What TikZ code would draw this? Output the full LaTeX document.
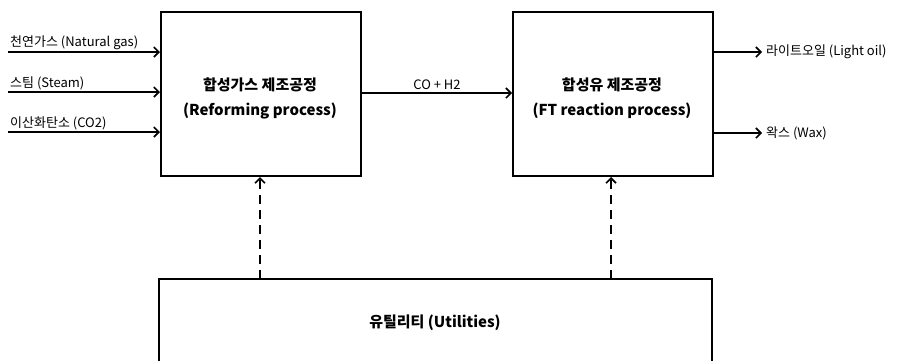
\documentclass[tikz,border=0pt]{standalone}
\usepackage{fontspec}
\setmainfont{Noto Sans CJK KR}
\usetikzlibrary{arrows.meta}
\begin{document}
\begin{tikzpicture}[x=1pt,y=-1pt,
  box/.style={draw,line width=2pt,minimum width=200pt,minimum height=164pt,anchor=north west,inner sep=0pt},
  flow/.style={line width=2pt,-{Straight Barb[length=5pt,width=10pt,line width=1.6pt]}},
  dflow/.style={flow,dash pattern=on 9pt off 6pt},
  lbl/.style={font=\fontsize{13}{15}\selectfont,inner sep=0pt},
  ttl/.style={font=\bfseries\fontsize{15}{25}\selectfont,align=center}]
\useasboundingbox (0,0) rectangle (899,360);
\node[box] (ref) at (160,11) {};
\node[box] (ft) at (512,11) {};
\node[ttl] (reft) at (260,98) {합성가스 제조공정\\(Reforming process)};
\node[ttl] (ftt) at (612,98) {합성유 제조공정\\(FT reaction process)};
\begin{scope}
\clip (0,0) rectangle (899,360);
\draw[line width=2pt] (159,372) -- (159,279) -- (712,279) -- (712,372);
\end{scope}
\coordinate (ut) at (435,279);
\node[font=\bfseries\fontsize{15}{18}\selectfont] (utl) at (435,323) {유틸리티 (Utilities)};
% inputs
\coordinate (i1) at (8,52);
\coordinate (i2) at (8,92);
\coordinate (i3) at (8,132);
\draw[flow] (i1) -- (i1 -| ref.west);
\draw[flow] (i2) -- (i2 -| ref.west);
\draw[flow] (i3) -- (i3 -| ref.west);
\node[lbl,anchor=south west] (l1) at (10,50) {천연가스 (Natural gas)};
\node[lbl,anchor=south west] (l2) at (10,90) {스팀 (Steam)};
\node[lbl,anchor=south west] (l3) at (10,130) {이산화탄소 (CO2)};
% middle
\coordinate (m) at (361,93);
\draw[flow] (m) -- (m -| ft.west);
\node[lbl,anchor=south] (co) at (437,90) {CO + H2};
% outputs
\coordinate (o1) at (712,52);
\coordinate (o2) at (712,133);
\coordinate (e1) at (762,52);
\coordinate (e2) at (762,133);
\draw[flow] (o1) -- (e1);
\draw[flow] (o2) -- (e2);
\node[lbl,anchor=west] (t1) at (766,52) {라이트오일 (Light oil)};
\node[lbl,anchor=west] (t2) at (766,133) {왁스 (Wax)};
% utilities
\coordinate (u1) at (260,279);
\coordinate (u2) at (611,279);
\draw[dflow] (u1) -- (u1 |- ref.south);
\draw[dflow] (u2) -- (u2 |- ft.south);
\end{tikzpicture}
\end{document}
